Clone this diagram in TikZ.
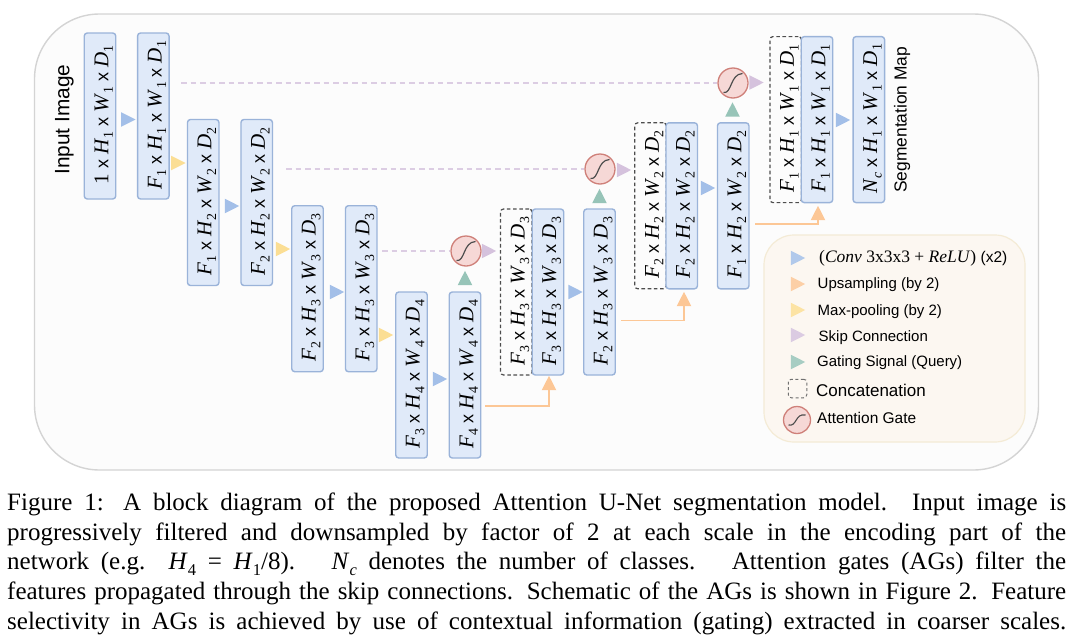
\documentclass[tikz,border=0pt]{standalone}
\usepackage{fontspec}
\setmainfont{Liberation Serif}
\setsansfont{Liberation Sans}
\usetikzlibrary{shapes.geometric}
\definecolor{boxfill}{HTML}{E0EAF9}
\definecolor{boxline}{HTML}{9AB3D9}
\definecolor{blueT}{HTML}{A3BFE8}
\definecolor{yellowT}{HTML}{FBDE94}
\definecolor{orangeT}{HTML}{FCC796}
\definecolor{purpleT}{HTML}{D5C2DD}
\definecolor{greenT}{HTML}{97C4B8}
\definecolor{agfill}{HTML}{F6D8D6}
\definecolor{agline}{HTML}{CF8079}
\definecolor{dashln}{HTML}{DCCDE3}
\definecolor{concat}{HTML}{4D4D4D}
\definecolor{panelfill}{HTML}{FCFCFC}
\definecolor{panelline}{HTML}{D4D4D4}
\definecolor{legfill}{HTML}{FCF7F1}
\definecolor{legline}{HTML}{F4EBD6}
\newcommand\sx{\kern5pt{\sffamily\fontsize{18}{18}\selectfont x}\kern5pt}
\newcommand\sbs[1]{\raisebox{-0.22em}{\fontsize{0.66em}{12}\selectfont #1}}
\newcommand\dd[3]{{\fontsize{21}{22}\selectfont #1\sx\textit{H}\sbs{#2}\sx\textit{W}\sbs{#2}\sx\textit{D}\sbs{#3}}}
\tikzset{
  x=1pt,y=-1pt,
  fmap/.style={draw=boxline,fill=boxfill,line width=1.4pt,rounded corners=3pt,minimum width=31.5pt,minimum height=166pt,inner sep=0pt,anchor=center},
  cmap/.style={draw=concat,fill=panelfill,dash pattern=on 3.6pt off 2.6pt,line width=1.2pt,rounded corners=3pt,minimum width=31.5pt,minimum height=166pt,inner sep=0pt,anchor=center},
  lbl/.style={rotate=90,anchor=center,inner sep=0pt,xshift=1pt,yshift=-3.7pt},
  agate/.style={circle,draw=agline,fill=agfill,line width=1.3pt,minimum size=#1,inner sep=0pt},
  skipln/.style={draw=dashln,line width=1.1pt,dash pattern=on 5.5pt off 4pt},
  upln/.style={draw=orangeT,line width=1.2pt},
  sans/.style={font=\sffamily\fontsize{#1}{16}\selectfont,anchor=west,inner sep=0pt},
}
\newcommand\tr[3]{\fill[#1] (#2-7.2,#3-7.3) -- (#2+7.2,#3) -- (#2-7.2,#3+7.3) -- cycle;}
\newcommand\tu[3]{\fill[#1] (#2-7.3,#3+7.2) -- (#2,#3-7.2) -- (#2+7.3,#3+7.2) -- cycle;}
\newcommand\scurve[2]{\draw[concat,line width=1.2pt] (#1-9.5,#2+9.5) .. controls (#1-1,#2+11) and (#1-3,#2-9) .. (#1+9.5,#2-9.5);}
\begin{document}
\begin{tikzpicture}
\useasboundingbox (0,0) rectangle (1072,635);
\fill[white] (0,0) rectangle (1072,635);
\node[draw=panelline,fill=panelfill,line width=1.4pt,rounded corners=65pt,minimum width=1004pt,minimum height=456pt,inner sep=0pt] (panel) at (536.5,242) {};
\node[draw=legline,fill=legfill,line width=1.2pt,rounded corners=30pt,minimum width=261pt,minimum height=207pt,inner sep=0pt] (legend) at (894.5,338.5) {};

\node[fmap] (a) at (100,116) {};
\node[fmap] (b) at (153.3,116) {};
\node[fmap] (c) at (203.2,202.5) {};
\node[fmap] (d) at (256.7,202.5) {};
\node[fmap] (e) at (307.5,288.7) {};
\node[fmap] (f) at (361.2,288.7) {};
\node[fmap] (g) at (411.5,375) {};
\node[fmap] (h) at (465,375) {};
\node[cmap] (i) at (516.3,292) {};
\node[fmap] (j) at (548,292) {};
\node[fmap] (k) at (599.5,292) {};
\node[cmap] (l) at (650.5,205.8) {};
\node[fmap] (m) at (681.7,205.8) {};
\node[fmap] (n) at (733.2,205.8) {};
\node[cmap] (o) at (785.7,119.6) {};
\node[fmap] (p) at (817,119.6) {};
\node[fmap] (q) at (868.8,119.6) {};

\node[lbl] (ta) at (a) {\dd{1}{1}{1}};
\node[lbl] (tb) at (b) {\dd{\textit{F}\sbs{1}}{1}{1}};
\node[lbl] (tc) at (c) {\dd{\textit{F}\sbs{1}}{2}{2}};
\node[lbl] (td) at (d) {\dd{\textit{F}\sbs{2}}{2}{2}};
\node[lbl] (te) at (e) {\dd{\textit{F}\sbs{2}}{3}{3}};
\node[lbl] (tf) at (f) {\dd{\textit{F}\sbs{3}}{3}{3}};
\node[lbl] (tg) at (g) {\dd{\textit{F}\sbs{3}}{4}{4}};
\node[lbl] (th) at (h) {\dd{\textit{F}\sbs{4}}{4}{4}};
\node[lbl] (ti) at (i) {\dd{\textit{F}\sbs{3}}{3}{3}};
\node[lbl] (tj) at (j) {\dd{\textit{F}\sbs{3}}{3}{3}};
\node[lbl] (tk) at (k) {\dd{\textit{F}\sbs{2}}{3}{3}};
\node[lbl] (tl) at (l) {\dd{\textit{F}\sbs{2}}{2}{2}};
\node[lbl] (tm) at (m) {\dd{\textit{F}\sbs{2}}{2}{2}};
\node[lbl] (tn) at (n) {\dd{\textit{F}\sbs{1}}{2}{2}};
\node[lbl] (to) at (o) {\dd{\textit{F}\sbs{1}}{1}{1}};
\node[lbl] (tp) at (p) {\dd{\textit{F}\sbs{1}}{1}{1}};
\node[lbl] (tq) at (q) {\dd{\textit{N}\sbs{\textit{c}}}{1}{1}};

\node[rotate=90,inner sep=0pt,font=\sffamily\fontsize{20.8}{22}\selectfont] (inp) at (64.5,119.7) {Input Image};
\node[rotate=90,inner sep=0pt,font=\sffamily\fontsize{17.4}{18}\selectfont] (seg) at (902,119.7) {Segmentation Map};

\node[agate=30pt] (ag3) at (466,251) {};
\node[agate=30pt] (ag2) at (600,169) {};
\node[agate=30pt] (ag1) at (733,83) {};
\scurve{466}{251}\scurve{600}{169}\scurve{733}{83}

\coordinate (s1) at (181,83);
\coordinate (s2) at (286,169);
\coordinate (s3) at (382,251);
\draw[skipln] (s1) -- (ag1.west);
\draw[skipln] (s2) -- (ag2.west);
\draw[skipln] (s3) -- (ag3.west);

\coordinate (u1) at (485,406);
\coordinate (u2) at (621,320.5);
\coordinate (u3) at (755,224);
\draw[upln] (u1) -- (549,406) -- (549,385);
\draw[upln] (u2) -- (684,320.5) -- (684,300);
\draw[upln] (u3) -- (818,224) -- (818,215);
\tu{orangeT}{549}{383}\tu{orangeT}{684}{299}\tu{orangeT}{818}{213}

\tr{blueT}{128.3}{119.5}\tr{yellowT}{178.3}{163}
\tr{blueT}{232}{206}\tr{yellowT}{283}{249}
\tr{blueT}{337}{292}\tr{yellowT}{386}{335}
\tr{blueT}{440}{379}
\tr{purpleT}{489}{251}\tr{purpleT}{624}{170}\tr{purpleT}{756.5}{82.5}
\tu{greenT}{465}{278}\tu{greenT}{599.5}{196}\tu{greenT}{732.5}{109.5}
\tr{blueT}{575.5}{292}\tr{blueT}{708}{188}\tr{blueT}{843}{120}

\tr{blueT!85!white}{798}{258}
\tr{orangeT!85!white}{798}{284}
\tr{yellowT!85!white}{798}{310}
\tr{purpleT!85!white}{798}{335}
\tr{greenT!85!white}{798}{362}
\node[draw=concat!80!white,dash pattern=on 3pt off 2.5pt,line width=1pt,rounded corners=3pt,minimum size=18.5pt,inner sep=0pt] (lc) at (797.5,388.5) {};
\node[agate=27pt] (lag) at (797,420) {};
\draw[concat,line width=1.1pt] (788.5,425) .. controls (797,427) and (795,413) .. (805.5,415);
\node[sans=15.5] (l1) at (819,258) {\fontsize{17.5}{18}\rmfamily\selectfont (\textit{Conv} 3x3x3 + \textit{ReLU}) \sffamily\fontsize{15.5}{16}\selectfont (x2)};
\node[sans=15] (l2) at (817.5,285) {Upsampling (by 2)};
\node[sans=15] (l3) at (817.5,311.5) {Max-pooling (by 2)};
\node[sans=15] (l4) at (818.5,337.5) {Skip Connection};
\node[sans=15] (l5) at (817,363) {Gating Signal (Query)};
\node[sans=17] (l6) at (816,390) {Concatenation};
\node[sans=15.5] (l7) at (817,418) {Attention Gate};

\node[anchor=north west,inner sep=0pt,text width=1059pt,align=justify,font=\fontsize{25}{29.7}\selectfont] (cap) at (7,492.5) {Figure 1: A block diagram of the proposed Attention U-Net segmentation model. Input image is\linebreak
progressively filtered and downsampled by factor of 2 at each scale in the encoding part of the\linebreak
network (e.g.\ \ \textit{H}\sbs{4} = \textit{H}\sbs{1}/8). \ \textit{N}\sbs{\textit{c}} denotes the number of classes. \ Attention gates (AGs) filter the\linebreak
features propagated through the skip connections. Schematic of the AGs is shown in Figure 2. Feature\linebreak
selectivity in AGs is achieved by use of contextual information (gating) extracted in coarser scales.\hspace{6pt}\linebreak};
\end{tikzpicture}
\end{document}
